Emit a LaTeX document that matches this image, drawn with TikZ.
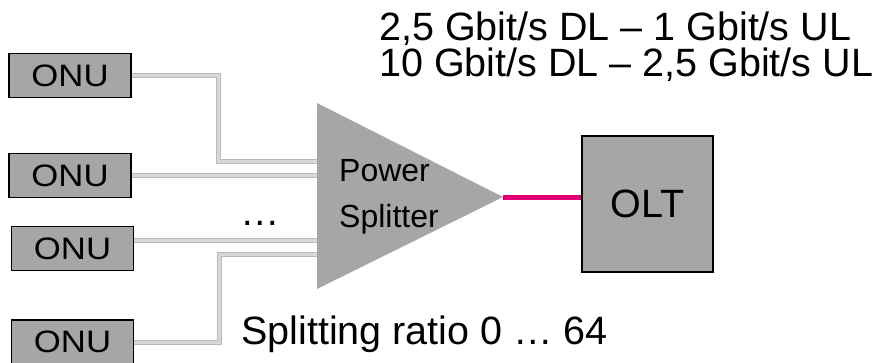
\documentclass[tikz,border=0pt]{standalone}
\usepackage{fontspec}
\setmainfont{Liberation Sans}
\usepackage{graphicx}
\usetikzlibrary{positioning,calc}
\definecolor{Box}{HTML}{A6A6A6}
\definecolor{FibreEdge}{HTML}{B8B8B8}
\definecolor{FibreCore}{HTML}{D8D8D8}
\definecolor{Magenta}{HTML}{E20074}

\begin{document}
\begin{tikzpicture}[x=1pt,y=-1pt,
    box/.style={draw=black,line width=1.3pt,fill=Box,inner sep=0pt},
    onu/.style={box,minimum width=122pt,minimum height=44pt,font=\fontsize{31}{33}\selectfont},
    fibre/.style={draw=FibreEdge,line width=1pt,double=FibreCore,double distance=3pt},
    pon/.style={draw=Magenta,line width=5pt},
    lbl/.style={anchor=base west,inner sep=0pt,font=\fontsize{39.5}{40}\selectfont}]
  \clip (0,0) rectangle (880,362);
  % ONUs on the left
  \node[onu] (onu1) at (70,75.5) {\scalebox{1.12}[1]{ONU}};
  \node[onu] (onu2) at (70,175.5) {\scalebox{1.12}[1]{ONU}};
  \node[onu] (onu3) at (72.5,248.5) {\scalebox{1.12}[1]{ONU}};
  \node[onu] (onu4) at (72.5,342) {\scalebox{1.12}[1]{ONU}};
  % splitter inputs and output
  \coordinate (in1) at (318,161);
  \coordinate (in2) at (318,175);
  \coordinate (in3) at (318,240);
  \coordinate (in4) at (318,254);
  \coordinate (tip) at (503,197);
  \draw[fibre] (onu1.east) -- ++(87,0) |- (in1);
  \draw[fibre] (onu2.east |- in2) -- (in2);
  \draw[fibre] (onu3.east |- in3) -- (in3);
  \draw[fibre] (onu4.east) -- ++(85,0) |- (in4);
  \fill[Box] (317,103) -- (tip) -- (317,289) -- cycle;
  \node[lbl,font=\fontsize{32}{34}\selectfont] (pw) at (339,181) {Power};
  \node[lbl,font=\fontsize{32}{34}\selectfont] (sp) at (339,227) {Splitter};
  \node[anchor=base,inner sep=0pt,font=\fontsize{39.5}{40}\selectfont] (dots) at (260,225) {…};
  % OLT
  \node[box,minimum width=131pt,minimum height=136pt,font=\fontsize{39.5}{40}\selectfont] (olt) at (647.5,204) {OLT};
  \draw[pon] (tip) -- (tip -| olt.west);
  % labels
  \node[lbl] (rate1) at (379,40) {2,5 Gbit/s DL – 1 Gbit/s UL};
  \node[lbl] (rate2) at (379,76) {10 Gbit/s DL – 2,5 Gbit/s UL};
  \node[lbl] (ratio) at (241,344) {Splitting ratio 0 … 64};
\end{tikzpicture}
\end{document}
